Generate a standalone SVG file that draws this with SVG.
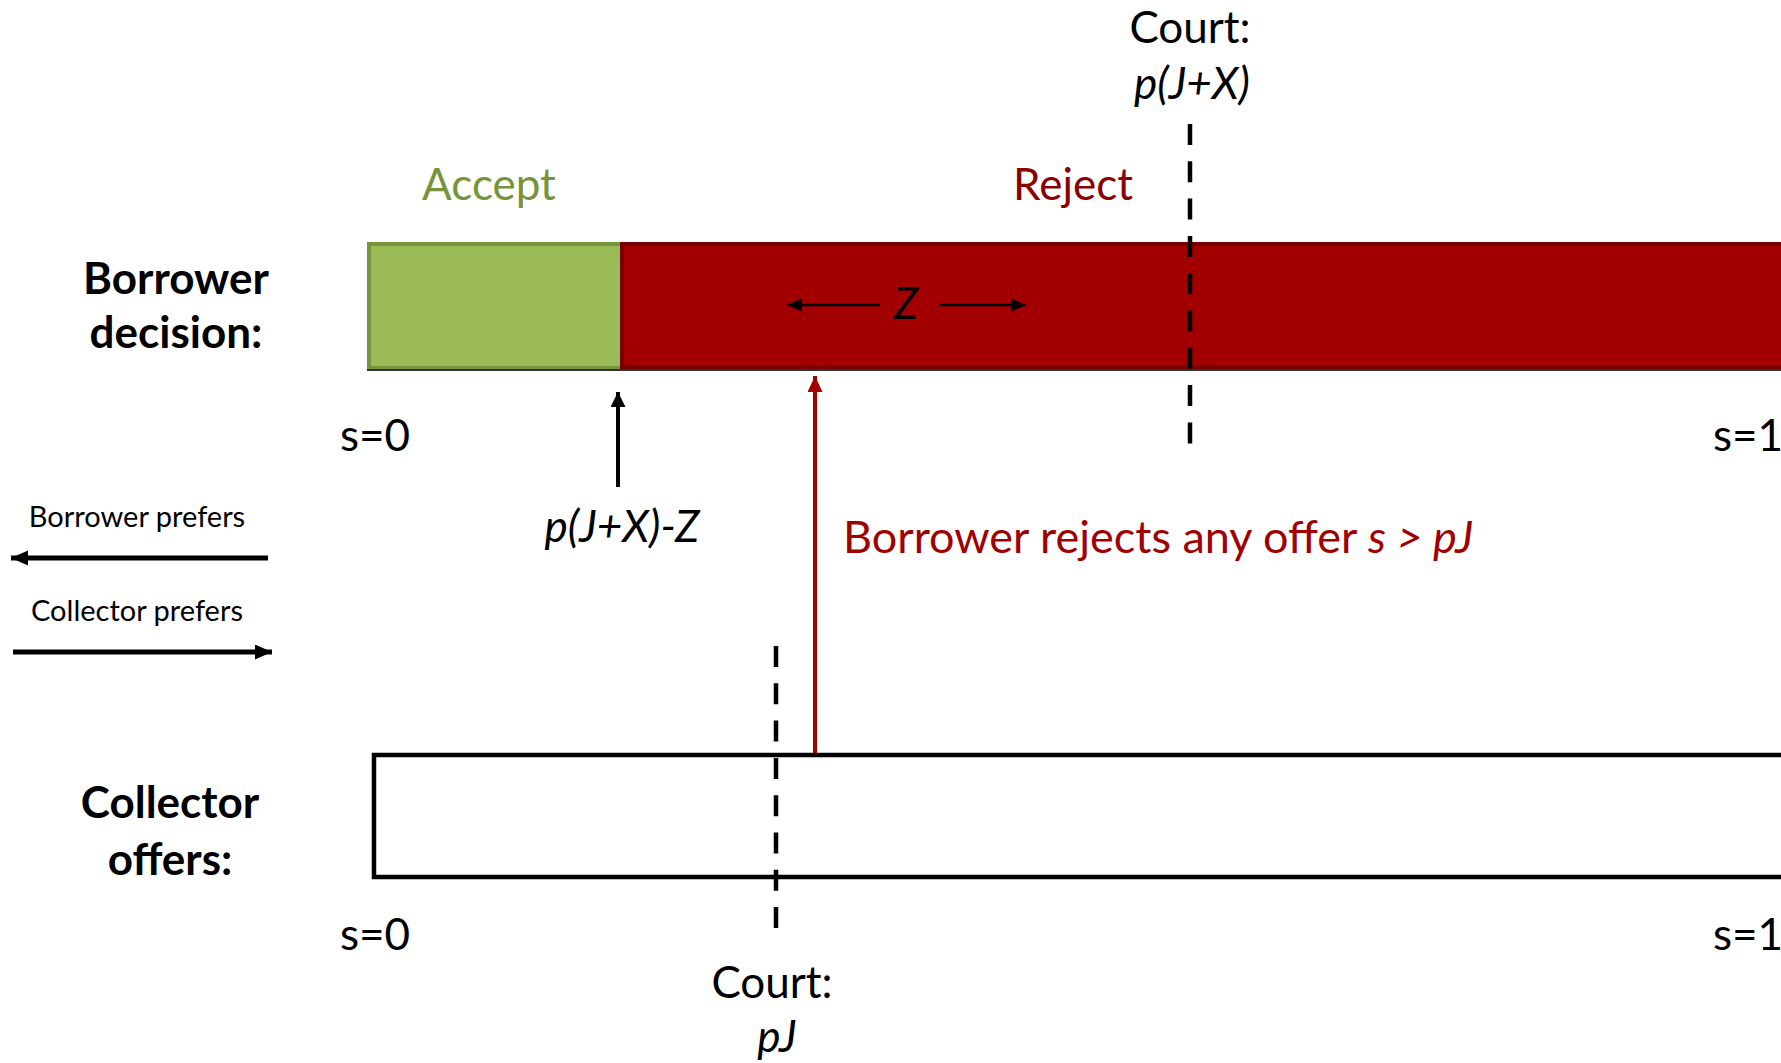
<svg xmlns="http://www.w3.org/2000/svg" width="1781" height="1063" viewBox="0 0 1781 1063">
<style>
text{font-family:Lato,"Open Sans","Liberation Sans",sans-serif;fill:#000}
.big{font-size:44px}
.bold{font-size:44px;font-weight:bold}
.small{font-size:29px}
.it{font-style:italic}
.mid{text-anchor:middle}
.dash{stroke:#000;stroke-width:4.5;stroke-dasharray:21 16.3;fill:none}
</style>
<defs>
<marker id="ahBig" markerUnits="userSpaceOnUse" markerWidth="16" markerHeight="16" refX="15" refY="7.5" orient="auto"><path d="M0,0 L15,7.5 L0,15 Z" fill="#000"/></marker>
<marker id="ahRed" markerUnits="userSpaceOnUse" markerWidth="17" markerHeight="16" refX="16" refY="7.5" orient="auto"><path d="M0,0 L16,7.5 L0,15 Z" fill="#A00000"/></marker>
<marker id="ahPref" markerUnits="userSpaceOnUse" markerWidth="18" markerHeight="16" refX="17" refY="7.5" orient="auto"><path d="M0,0 L17,7.5 L0,15 Z" fill="#000"/></marker>
<marker id="ahZ" markerUnits="userSpaceOnUse" markerWidth="16" markerHeight="14" refX="15" refY="6.5" orient="auto"><path d="M0,0 L15,6.5 L0,13 Z" fill="#000"/></marker>
</defs>

<g id="borrower-label">
<text class="bold mid" x="176" y="294">Borrower</text>
<text class="bold mid" x="176" y="348">decision:</text>
</g>

<g id="collector-label">
<text class="bold mid" x="170" y="818">Collector</text>
<text class="bold mid" x="170" y="875">offers:</text>
</g>

<g id="accept-box">
<rect x="369" y="244" width="253" height="124" fill="#9BBB59" stroke="#77933C" stroke-width="4"/>
<text class="big mid" x="489" y="200" style="fill:#77933C">Accept</text>
</g>

<g id="reject-box">
<rect x="622" y="244" width="1161" height="124" fill="#A20000" stroke="#780000" stroke-width="4"/>
<text class="big mid" x="1073" y="200" style="fill:#8B0000">Reject</text>
</g>
<line x1="367" y1="370" x2="1781" y2="370" stroke="#333" stroke-width="2"/>

<g id="collector-box">
<rect x="374" y="755" width="1412" height="122" fill="#fff" stroke="#000" stroke-width="4.5"/>
</g>

<g id="scale-labels">
<text class="big" x="340" y="451">s=0</text>
<text class="big" x="1713" y="451">s=1</text>
<text class="big" x="340" y="950">s=0</text>
<text class="big" x="1713" y="950">s=1</text>
</g>

<g id="court-top">
<text class="big mid" x="1190" y="43">Court:</text>
<text class="big mid it" x="1192" y="99">p(J+X)</text>
</g>

<g id="court-bottom">
<text class="big mid" x="772" y="998">Court:</text>
<text class="big mid it" x="777" y="1052">pJ</text>
</g>

<g id="threshold-label">
<text class="big mid it" x="622" y="542">p(J+X)-Z</text>
</g>

<g id="reject-rule">
<text x="843" y="553" style="fill:#A00000;font-size:45px">Borrower rejects any offer <tspan class="it" style="fill:#A00000">s &gt; pJ</tspan></text>
</g>

<g id="z-label">
<text class="big mid it" x="906" y="319">Z</text>
</g>

<g id="legend">
<text class="small mid" x="137" y="527">Borrower prefers</text>
<text class="small mid" x="137" y="621">Collector prefers</text>
</g>

<g id="connectors">
<line x1="1190" y1="124" x2="1190" y2="444" class="dash"/>
<line x1="776" y1="646" x2="776" y2="929" class="dash"/>
<line x1="618" y1="487" x2="618" y2="392" stroke="#000" stroke-width="4" marker-end="url(#ahBig)"/>
<line x1="815" y1="753" x2="815" y2="376" stroke="#A00000" stroke-width="4" marker-end="url(#ahRed)"/>
<line x1="268" y1="558" x2="11" y2="558" stroke="#000" stroke-width="5" marker-end="url(#ahPref)"/>
<line x1="13" y1="652" x2="272" y2="652" stroke="#000" stroke-width="5" marker-end="url(#ahPref)"/>
<line x1="880" y1="305" x2="787" y2="305" stroke="#000" stroke-width="2.5" marker-end="url(#ahZ)"/>
<line x1="939" y1="305" x2="1026" y2="305" stroke="#000" stroke-width="2.5" marker-end="url(#ahZ)"/>
</g>
</svg>
